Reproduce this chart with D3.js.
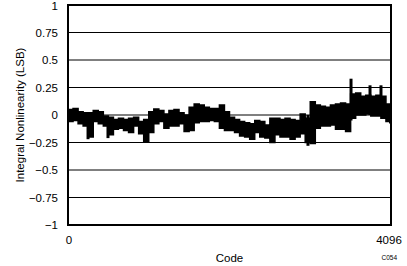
<!DOCTYPE html>
<html>
<head>
<meta charset="utf-8">
<script src="https://cdn.jsdelivr.net/npm/d3@7"></script>
<style>
  body { margin: 0; background: #fff; }
  text { font-family: "Liberation Sans", Arial, sans-serif; fill: #000; }
</style>
</head>
<body>
<div id="chart"></div>
<script>
'use strict';

// Y ticks and x tick labels
let yTicks = [-1, -0.75, -0.5, -0.25, 0, 0.25, 0.5, 0.75, 1];
let xTicks = [0, 4096];

// INL envelope, one pair per 64-code bin
let inlHigh = [0.05, 0.06, 0.03, 0.02, 0.02, 0.04, 0.03, -0.01, -0.02, -0.04,
  -0.03, -0.04, -0.03, -0.02, -0.06, -0.04, 0.03, 0.055, 0.04, 0.01,
  0.04, 0.05, 0.02, 0.0, 0.07, 0.1, 0.09, 0.07, 0.06, 0.06,
  0.09, 0.03, -0.02, -0.04, -0.06, -0.07, -0.08, -0.05, -0.06, -0.09,
  -0.03, -0.03, -0.04, -0.03, -0.04, -0.05, 0.01, -0.03, 0.12, 0.09,
  0.08, 0.07, 0.09, 0.1, 0.11, 0.1, 0.19, 0.2, 0.17, 0.18,
  0.17, 0.18, 0.17, 0.1];
let inlLow = [-0.06, -0.05, -0.08, -0.1, -0.2, -0.06, -0.08, -0.1, -0.18, -0.13,
  -0.12, -0.14, -0.16, -0.1, -0.17, -0.24, -0.16, -0.08, -0.06, -0.12,
  -0.1, -0.1, -0.08, -0.15, -0.14, -0.07, -0.06, -0.06, -0.05, -0.06,
  -0.12, -0.14, -0.14, -0.16, -0.19, -0.2, -0.22, -0.16, -0.2, -0.21,
  -0.25, -0.18, -0.2, -0.2, -0.22, -0.2, -0.17, -0.25, -0.26, -0.12,
  -0.1, -0.1, -0.09, -0.13, -0.13, -0.15, -0.03, 0.0, 0.0, 0.01,
  -0.01, -0.01, -0.03, -0.06];

// narrow spikes that stand out of the band
let spikeCodes = [254, 507, 989, 3043, 3589, 3830, 3969];
let spikeHigh = [0.0, -0.05, -0.08, 0.0, 0.33, 0.27, 0.27];
let spikeLow = [-0.22, -0.21, -0.24, -0.28, -0.05, 0.0, 0.0];

let width = 407, height = 266;
let margin = {top: 5, right: 16, bottom: 41, left: 68};

let svg = d3.select('#chart').append('svg')
  .attr('width', width)
  .attr('height', height);

let x = d3.scaleLinear().domain([0, 4096]).range([margin.left, width - margin.right]);
let y = d3.scaleLinear().domain([-1, 1]).range([height - margin.bottom, margin.top]);

// bin centre codes
let codes = d3.range(32, 4096, 64);
let band = codes.map((c, i) => ({code: c, hi: inlHigh[i], lo: inlLow[i]}));
band.unshift({code: 0, hi: inlHigh[0], lo: inlLow[0]});
band.push({code: 4096, hi: 0.05, lo: -0.07});

// gridlines
svg.append('g')
  .selectAll('line')
  .data(yTicks)
  .join('line')
  .attr('x1', x(0)).attr('x2', x(4096))
  .attr('y1', d => y(d)).attr('y2', d => y(d))
  .attr('stroke', '#000')
  .attr('stroke-width', 1);

// y tick labels
svg.append('g')
  .selectAll('text')
  .data(yTicks)
  .join('text')
  .attr('x', margin.left - 10)
  .attr('y', d => y(d) + (d === 1 ? 1 : 0))
  .attr('dy', '0.35em')
  .attr('text-anchor', 'end')
  .attr('font-size', 11.5)
  .text(d => d3.format('~g')(d));

// x tick labels
svg.append('g')
  .selectAll('text')
  .data(xTicks)
  .join('text')
  .attr('x', d => x(d) + (d === 0 ? 1 : -2))
  .attr('y', height - margin.bottom + 19)
  .attr('text-anchor', 'middle')
  .attr('font-size', 11.5)
  .text(d => d);

// the INL band, blocky like the measured trace
let area = d3.area()
  .curve(d3.curveStep)
  .x(d => x(d.code))
  .y0(d => y(d.lo))
  .y1(d => y(d.hi));

svg.append('path')
  .datum(band)
  .attr('d', area)
  .attr('fill', '#000')
  .attr('stroke', '#000')
  .attr('stroke-width', 1.5);

svg.append('g')
  .selectAll('line')
  .data(spikeCodes)
  .join('line')
  .attr('x1', d => x(d)).attr('x2', d => x(d))
  .attr('y1', (d, i) => y(spikeHigh[i]))
  .attr('y2', (d, i) => y(spikeLow[i]))
  .attr('stroke', '#000')
  .attr('stroke-width', 3);

// plot frame
svg.append('rect')
  .attr('x', x(0)).attr('y', y(1))
  .attr('width', x(4096) - x(0))
  .attr('height', y(-1) - y(1))
  .attr('fill', 'none')
  .attr('stroke', '#000')
  .attr('stroke-width', 2);

// axis titles
svg.append('text')
  .attr('x', (x(0) + x(4096)) / 2)
  .attr('y', height - 4)
  .attr('text-anchor', 'middle')
  .attr('font-size', 11.5)
  .text('Code');

svg.append('text')
  .attr('transform', `translate(24,${(y(1) + y(-1)) / 2}) rotate(-90)`)
  .attr('text-anchor', 'middle')
  .attr('font-size', 11.5)
  .text('Integral Nonlinearity (LSB)');

svg.append('text')
  .attr('x', 397)
  .attr('y', 260)
  .attr('text-anchor', 'end')
  .attr('font-size', 6.5)
  .text('C054');
</script>
</body>
</html>
